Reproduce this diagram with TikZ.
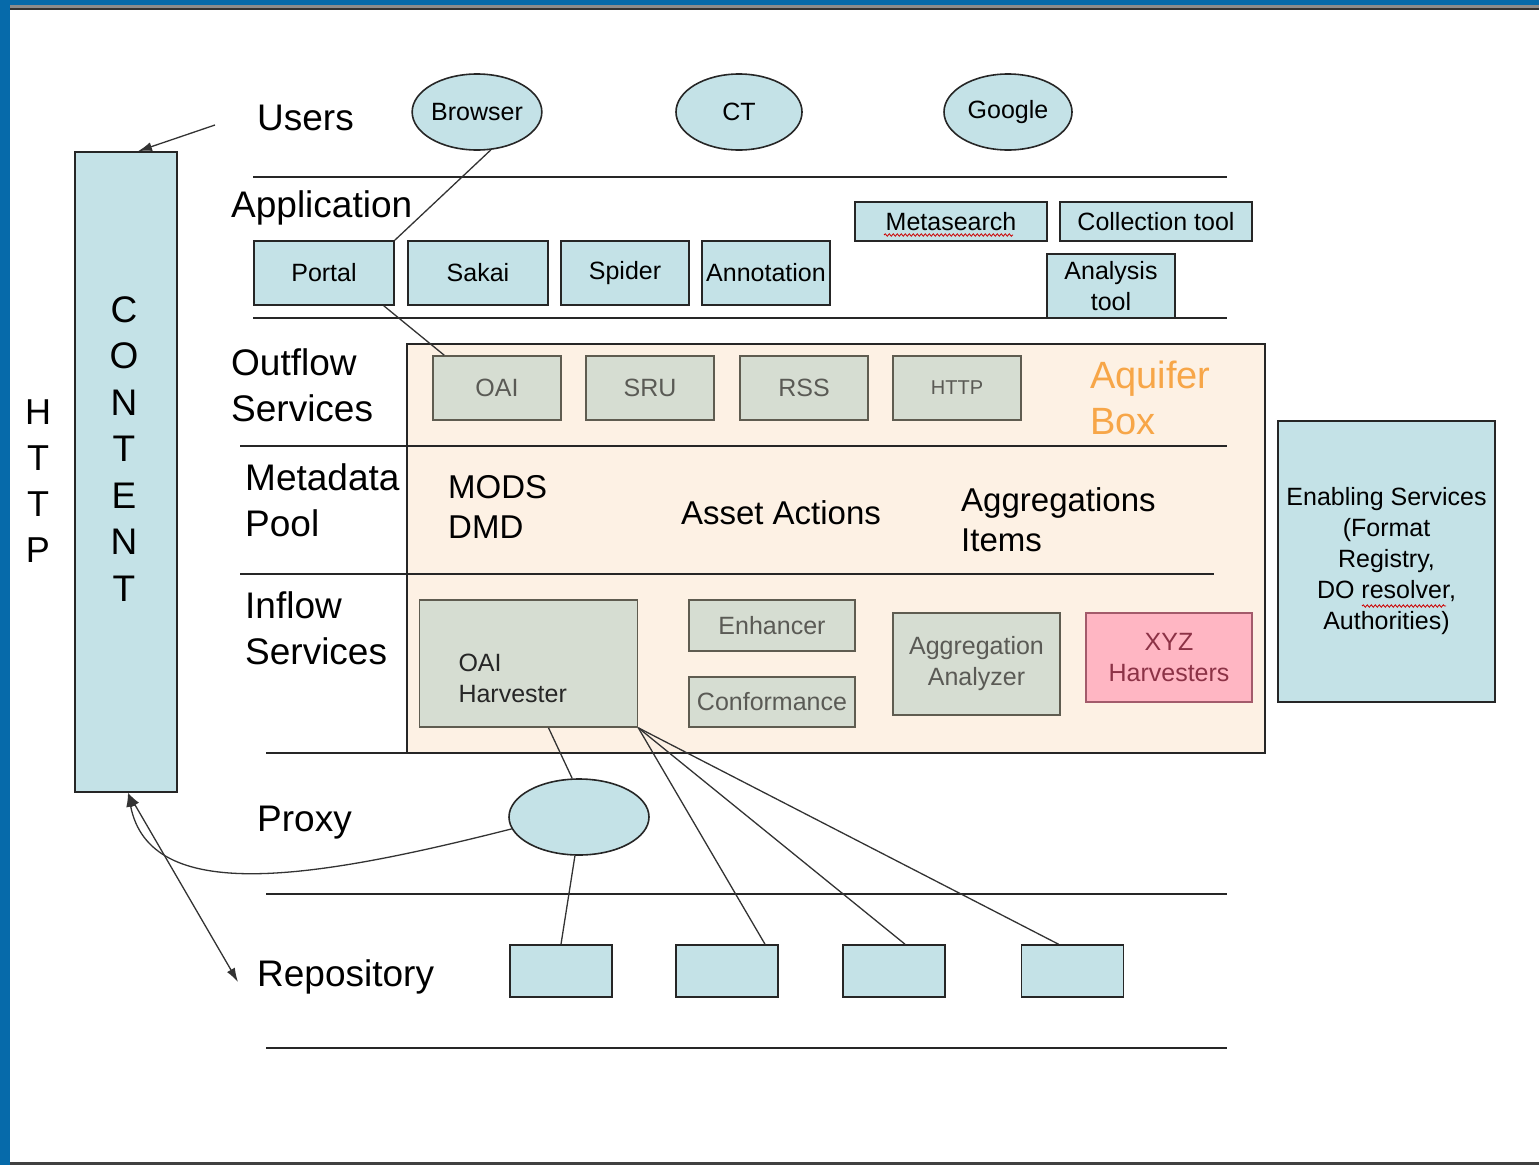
\documentclass[tikz,border=0pt]{standalone}
\usepackage{fontspec}
\setmainfont{Liberation Sans}
\usetikzlibrary{arrows.meta}
\usetikzlibrary{shapes}
\usetikzlibrary{decorations.pathmorphing}

\definecolor{frameblue}{RGB}{6,106,170}
\definecolor{boxblue}{RGB}{196,226,231}
\definecolor{sage}{RGB}{214,221,210}
\definecolor{peach}{RGB}{253,241,228}
\definecolor{xyzpink}{RGB}{255,182,195}
\definecolor{xyztext}{RGB}{140,50,70}
\definecolor{aqorange}{RGB}{247,166,72}
\definecolor{svcgray}{RGB}{90,90,85}
\definecolor{svcline}{RGB}{95,92,80}

\begin{document}
\begin{tikzpicture}[x=1pt,y=-1pt,
    layer/.style={anchor=west, inner sep=0pt, align=left, font=\fontsize{37}{46}\selectfont},
    pool/.style={anchor=west, inner sep=0pt, align=left, font=\fontsize{33}{40}\selectfont},
    app/.style={draw=black!85, line width=1.6pt, fill=boxblue, inner sep=0pt, align=center,
        font=\fontsize{25}{31}\selectfont},
    svc/.style={draw=svcline, line width=1.6pt, fill=sage, text=svcgray, inner sep=0pt, align=center,
        font=\fontsize{25}{31}\selectfont},
    user/.style={app, ellipse},
    repo/.style={app, minimum width=102pt, minimum height=52pt},
    sep/.style={line width=1.6pt, black!85},
    conn/.style={line width=1.3pt, black!80},
    >={Latex[length=14pt,width=9pt]}]

    \useasboundingbox (0,0) rectangle (1539,1165);

    % frame
    \fill[frameblue] (0,0) rectangle (1539,5);
    \fill[black!45] (10,5) rectangle (1539,8);
    \fill[black!80] (10,8) rectangle (1539,9.5);
    \fill[frameblue] (0,0) rectangle (10,1165);
    \fill[black!75] (10,1162) rectangle (1539,1165);

    % aquifer box
    \draw[draw=black!85, fill=peach, line width=1.6pt] (407,344) rectangle (1265,753);

    % layer lines
    \draw[sep] (253,177) -- (1227,177);
    \draw[sep] (253,318) -- (1227,318);
    \draw[sep] (240,446) -- (1227,446);
    \draw[sep] (240,574) -- (1214,574);
    \draw[sep] (266,753) -- (1265,753);
    \draw[sep] (266,894) -- (1227,894);
    \draw[sep] (266,1048) -- (1227,1048);

    % content column
    \node[app, minimum width=102pt, minimum height=640pt] (content) at (126,472) {};
    \node[align=center, inner sep=0pt, font=\fontsize{37}{46.5}\selectfont] (contentlbl) at (124,449)
        {C\\O\\N\\T\\E\\N\\T};
    \node[align=center, inner sep=0pt, font=\fontsize{36}{46}\selectfont] (httplbl) at (38,481)
        {H\\T\\T\\P};

    % layer labels
    \node[layer] (users) at (257,118) {Users};
    \node[layer] (application) at (231,208) {Application};
    \node[layer] (outflow) at (231,385) {Outflow\\Services};
    \node[layer] (metadata) at (245,500) {Metadata\\Pool};
    \node[layer] (inflow) at (245,628) {Inflow\\Services};
    \node[layer] (proxylbl) at (257,823) {Proxy};
    \node[layer] (repository) at (257,977) {Repository};

    % users
    \node[user, minimum width=116pt, minimum height=76pt] (browser) at (477,112) {Browser};
    \node[user, minimum width=126pt, minimum height=76pt] (ct) at (739,112) {CT};
    \node[user, minimum width=128pt, minimum height=76pt] (google) at (1008,112) {Google};

    % applications
    \node[app, minimum width=140pt, minimum height=64pt] (portal) at (324,273) {Portal};
    \node[app, minimum width=140pt, minimum height=64pt] (sakai) at (478,273) {Sakai};
    \node[app, minimum width=128pt, minimum height=64pt] (spider) at (625,273) {Spider};
    \node[app, minimum width=128pt, minimum height=64pt] (annotation) at (766,273) {Annotation};
    \node[app, minimum width=192pt, minimum height=39pt] (metasearch) at (951,221.5) {Metasearch};
    \node[app, minimum width=192pt, minimum height=39pt] (collection) at (1156,221.5) {Collection tool};
    \node[app, minimum width=128pt, minimum height=64pt] (analysis) at (1111,286) {Analysis\\tool};
    \draw[red!80!black, line width=0.8pt, decorate, decoration={snake, amplitude=1.2pt, segment length=4pt}]
        (884,235) -- (1013,235);

    % outflow services
    \node[svc, minimum width=128pt, minimum height=64pt] (oai) at (497,388) {OAI};
    \node[svc, minimum width=128pt, minimum height=64pt] (sru) at (650,388) {SRU};
    \node[svc, minimum width=128pt, minimum height=64pt] (rss) at (804,388) {RSS};
    \node[svc, minimum width=128pt, minimum height=64pt, font=\fontsize{20}{24}\selectfont] (httpout) at (957,388) {HTTP};
    \node[anchor=west, inner sep=0pt, align=left, text=aqorange, font=\fontsize{38}{46}\selectfont] (aquifer) at (1090,398) {Aquifer\\Box};

    % metadata pool
    \node[pool] (mods) at (448,507) {MODS\\DMD};
    \node[pool, anchor=center] (asset) at (781,513) {Asset Actions};
    \node[pool] (aggr) at (961,520) {Aggregations\\Items};

    % inflow services
    \node[svc, minimum width=217pt, minimum height=127pt, text width=140pt, align=left, inner xsep=39pt,
        text=black!85] (harvester) at (528.5,663.5) {\rule{0pt}{48pt}OAI\\Harvester};
    \node[svc, minimum width=166pt, minimum height=51pt] (enhancer) at (772,625.5) {Enhancer};
    \node[svc, minimum width=166pt, minimum height=50pt] (conformance) at (772,702) {Conformance};
    \node[svc, minimum width=167pt, minimum height=102pt] (analyzer) at (976.5,664) {Aggregation\\Analyzer};
    \node[svc, fill=xyzpink, draw=xyztext!80, text=xyztext, minimum width=166pt, minimum height=89pt] (xyz) at (1169,657.5) {XYZ\\Harvesters};

    % enabling services
    \node[app, minimum width=217pt, minimum height=281pt] (enabling) at (1386.5,561.5)
        {Enabling Services\\(Format\\Registry,\\DO resolver,\\Authorities)};
    \draw[red!80!black, line width=0.8pt, decorate, decoration={snake, amplitude=1.2pt, segment length=4pt}]
        (1362,606) -- (1446,606);

    % proxy and repositories
    \node[user, minimum width=140pt, minimum height=76pt] (proxy) at (579,817) {};
    \node[repo] (repoa) at (561,971) {};
    \node[repo] (repob) at (727,971) {};
    \node[repo] (repoc) at (894,971) {};
    \node[repo] (repod) at (1072.5,971) {};

    \coordinate (userstail) at (215,125);
    \coordinate (repotip) at (238,982);

    % connectors
    \draw[conn, ->] (userstail) -- ([xshift=12pt]content.north);
    \draw[conn] (browser.-70) -- (portal.north east);
    \draw[conn] ([xshift=-11pt]portal.south east) -- ([xshift=12pt]oai.north west);
    \draw[conn] ([xshift=20pt]harvester.south) -- (proxy.100);
    \draw[conn] (harvester.south east) -- ([xshift=38pt]repob.north);
    \draw[conn] (harvester.south east) -- ([xshift=11pt]repoc.north);
    \draw[conn] (harvester.south east) -- ([xshift=-14pt]repod.north);
    \draw[conn] (proxy.-96) -- (repoa.north);
    \draw[conn, ->] (proxy.190) .. controls (310,880) and (150,905) .. ([xshift=2pt]content.south);
    \draw[conn, <->] ([xshift=2pt]content.south) -- (repotip);
\end{tikzpicture}
\end{document}
